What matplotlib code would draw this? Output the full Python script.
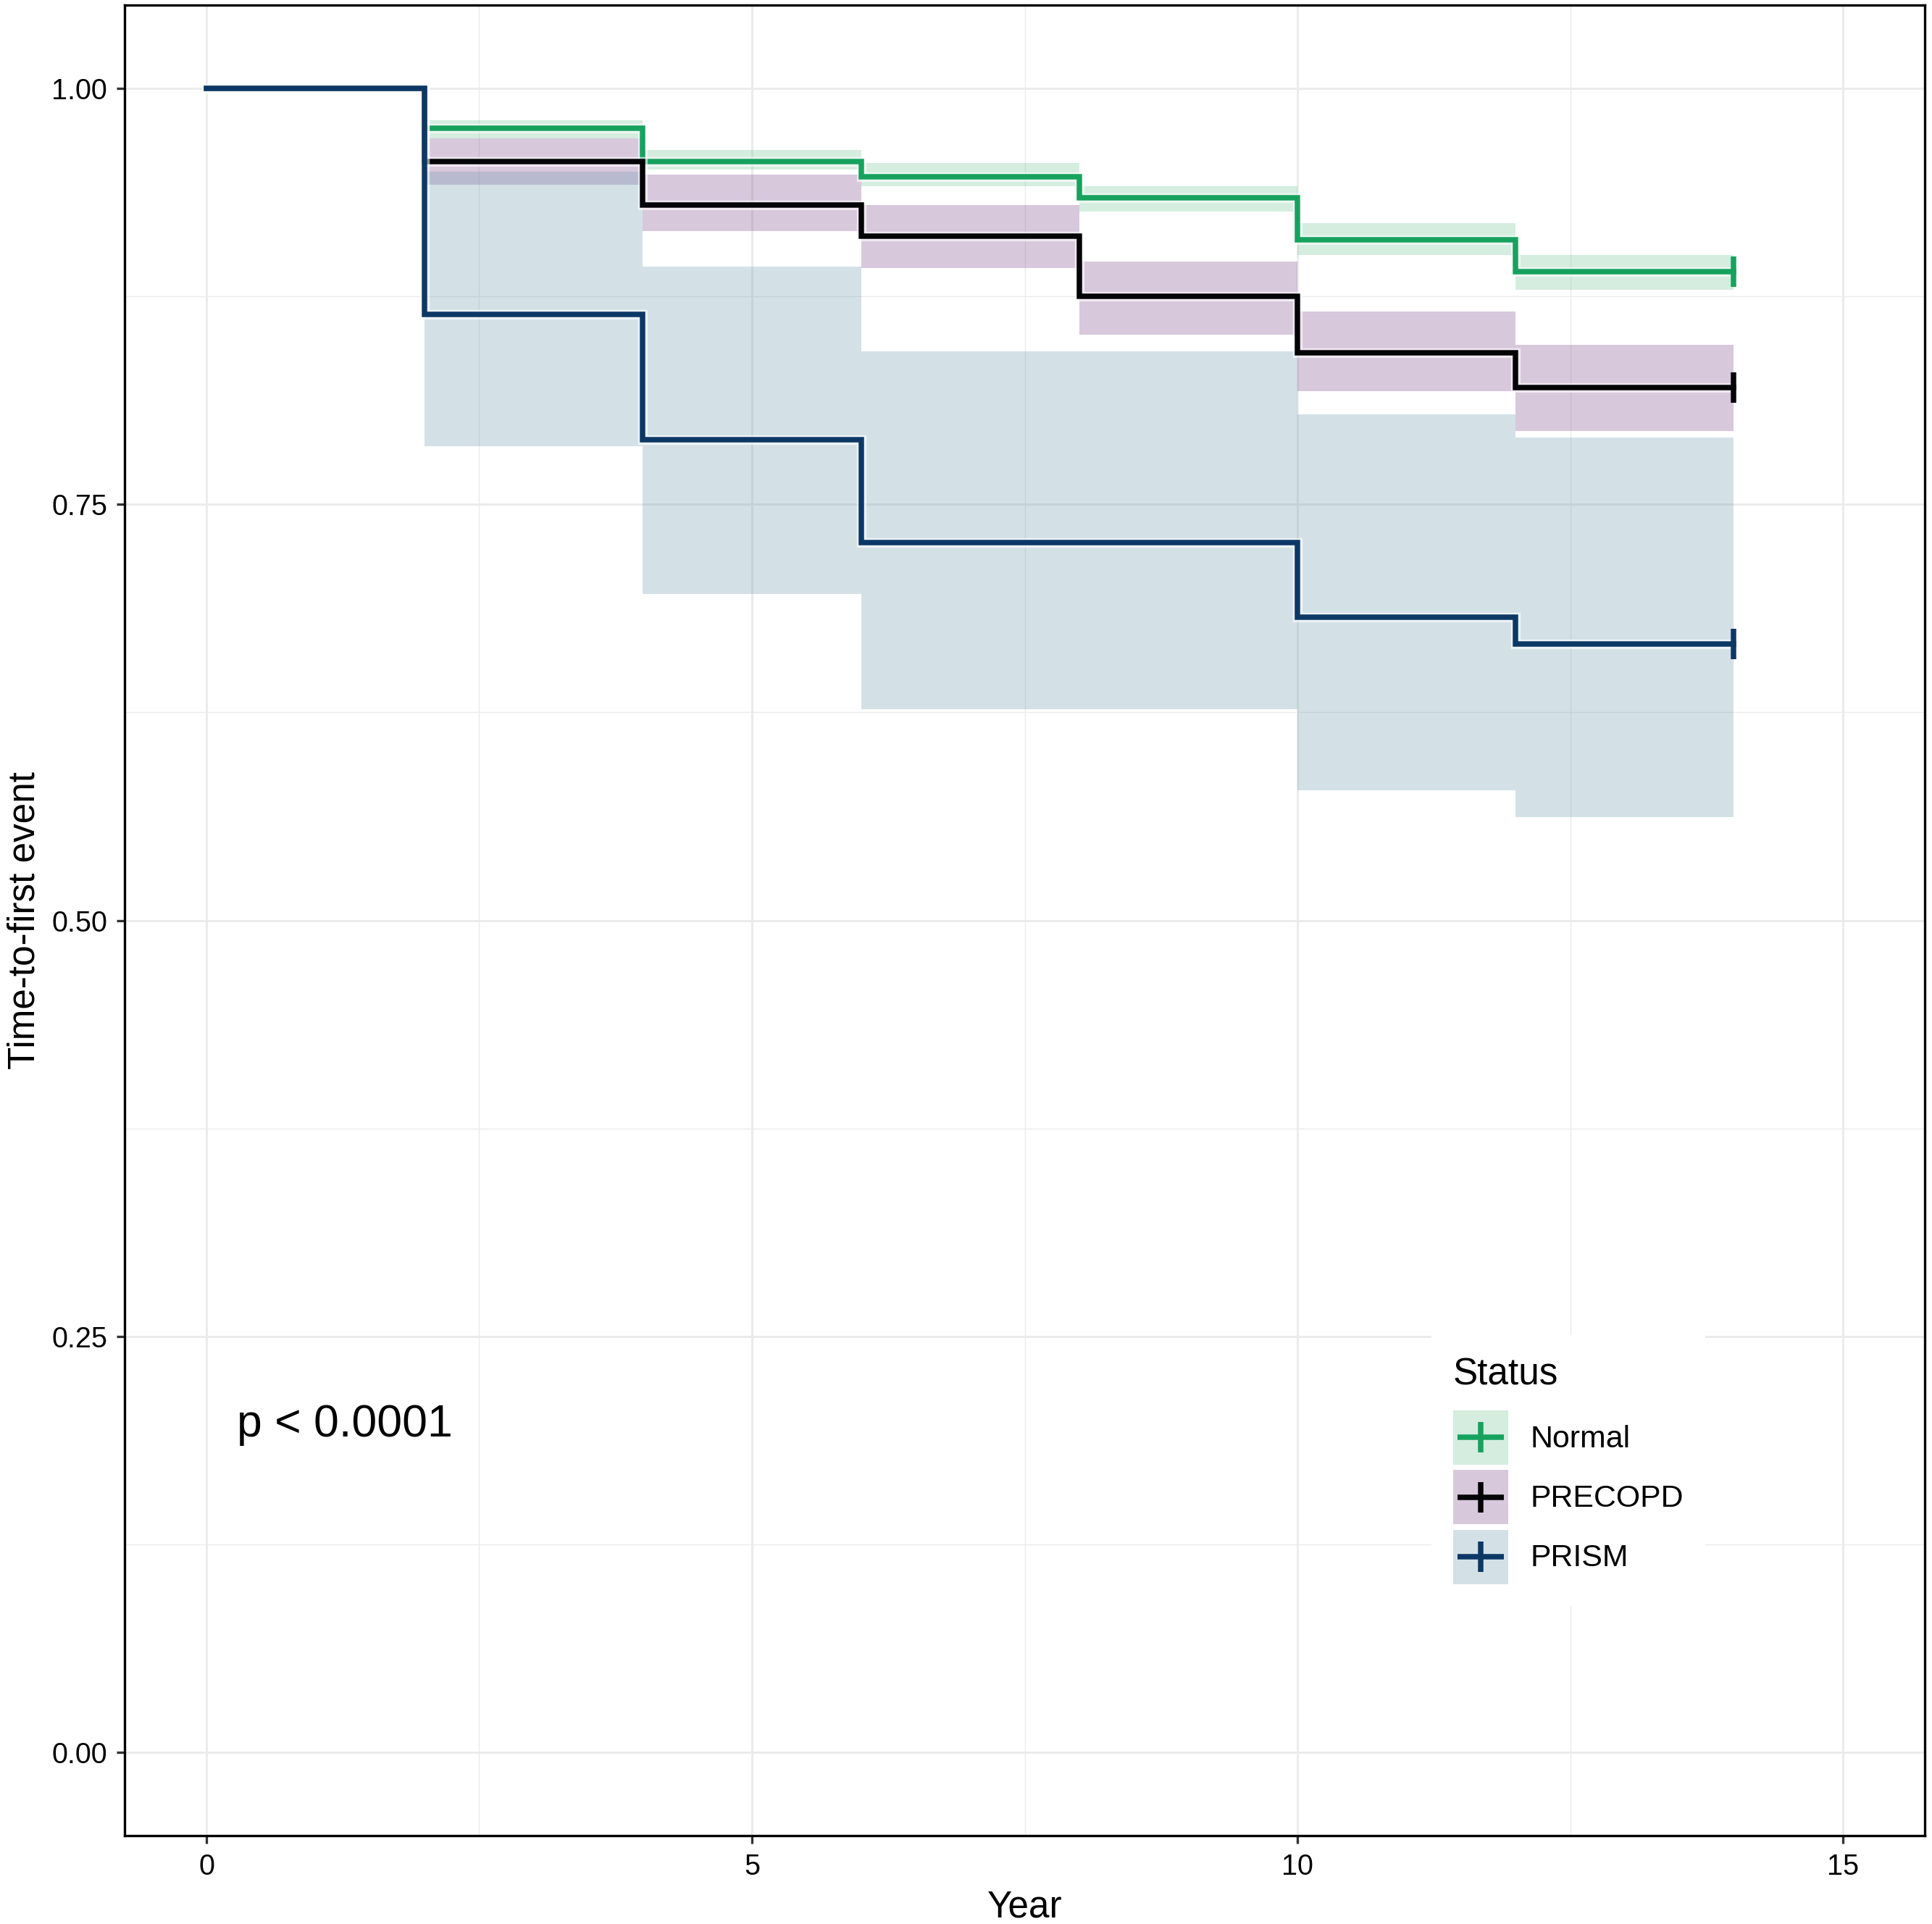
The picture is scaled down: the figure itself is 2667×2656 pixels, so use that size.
import matplotlib
matplotlib.use("Agg")
import matplotlib.pyplot as plt
import matplotlib.patheffects as pe
from matplotlib.patches import Rectangle
from matplotlib.lines import Line2D
from matplotlib.legend_handler import HandlerBase
from matplotlib.ticker import MultipleLocator, FixedLocator

plt.rcParams['font.family'] = ['Liberation Sans', 'DejaVu Sans']

# ---------------- data ----------------
times = [0, 2, 4, 6, 8, 10, 12, 14]
groups = ["Normal", "PRECOPD", "PRISM"]

normal_surv  = [1.0, 0.976, 0.956, 0.947, 0.934, 0.909, 0.890]
normal_upper = [1.0, 0.981, 0.963, 0.955, 0.941, 0.919, 0.900]
normal_lower = [1.0, 0.970, 0.951, 0.941, 0.926, 0.900, 0.879]

precopd_surv  = [1.0, 0.956, 0.930, 0.911, 0.875, 0.841, 0.820]
precopd_upper = [1.0, 0.970, 0.948, 0.930, 0.896, 0.866, 0.846]
precopd_lower = [1.0, 0.942, 0.914, 0.892, 0.852, 0.818, 0.794]

prism_surv  = [1.0, 0.864, 0.789, 0.727, 0.727, 0.682, 0.666]
prism_upper = [1.0, 0.950, 0.893, 0.842, 0.842, 0.804, 0.790]
prism_lower = [1.0, 0.785, 0.696, 0.627, 0.627, 0.578, 0.562]

x_ticks = [0, 5, 10, 15]
y_ticks = [0.00, 0.25, 0.50, 0.75, 1.00]
y_tick_labels = ["0.00", "0.25", "0.50", "0.75", "1.00"]
pval_text = "p < 0.0001"

# ---------------- styles ----------------
line_colors = {"Normal": "#16A25E", "PRECOPD": "#050508", "PRISM": "#0C3866"}
fill_colors = {"Normal": "#73C698", "PRECOPD": "#804B8E", "PRISM": "#709EB2"}
fill_alpha = 0.3
lw = 1.8

series = {
    "Normal": (normal_surv, normal_lower, normal_upper),
    "PRECOPD": (precopd_surv, precopd_lower, precopd_upper),
    "PRISM": (prism_surv, prism_lower, prism_upper),
}

fig = plt.figure(figsize=(2667 / 300, 2656 / 300), dpi=300)
ax = fig.add_axes([172 / 2667, 1 - 2534 / 2656, (2657 - 172) / 2667, (2534 - 7) / 2656])

ext = lambda v: list(v) + [v[-1]]

for g in groups:
    s, lo, hi = series[g]
    ax.fill_between(times, ext(lo), ext(hi), step="post",
                    facecolor=fill_colors[g], alpha=fill_alpha, linewidth=0, zorder=2)

halo = [pe.Stroke(linewidth=3.2, foreground="white", alpha=0.6), pe.Normal()]
for g in groups:
    s, lo, hi = series[g]
    ax.step(times, ext(s), where="post", color=line_colors[g], linewidth=lw,
            zorder=3, path_effects=halo, solid_joinstyle="miter")
    ax.plot([times[-1]], [s[-1]], linestyle="none", marker="|", markersize=10,
            markeredgewidth=lw, color=line_colors[g], zorder=4)

ax.set_xlim(-0.75, 15.75)
ax.set_ylim(-0.05, 1.05)
ax.xaxis.set_major_locator(FixedLocator(x_ticks))
ax.xaxis.set_minor_locator(MultipleLocator(2.5))
ax.yaxis.set_major_locator(FixedLocator(y_ticks))
ax.set_yticklabels(y_tick_labels)
ax.yaxis.set_minor_locator(MultipleLocator(0.125))

ax.grid(which="major", color="#EBEBEB", linewidth=0.7, zorder=0)
ax.grid(which="minor", color="#EBEBEB", linewidth=0.35, zorder=0)
ax.set_axisbelow(True)

for sp in ax.spines.values():
    sp.set_color("black")
    sp.set_linewidth(0.8)

ax.tick_params(which="major", length=2.7, width=0.8, color="#333333",
               labelsize=9.5, labelcolor="black", pad=3)
ax.tick_params(which="minor", length=0)

ax.set_xlabel("Year", fontsize=12.3, labelpad=3)
ax.set_ylabel("Time-to-first event", fontsize=12.3, labelpad=3)

ax.text(0.28, 0.19, pval_text, fontsize=15, ha="left", va="baseline", zorder=5)


class KeyHandler(HandlerBase):
    def create_artists(self, legend, orig_handle, xdescent, ydescent,
                       width, height, fontsize, trans):
        fc, lc = orig_handle
        x0, y0 = -xdescent, -ydescent
        rect = Rectangle((x0, y0), width, height, facecolor=fc, alpha=fill_alpha,
                         edgecolor="none", transform=trans)
        cy = y0 + height / 2
        cx = x0 + width / 2
        hl = Line2D([x0 + 0.08 * width, x0 + 0.92 * width], [cy, cy], color=lc,
                    linewidth=lw, transform=trans, solid_capstyle="butt")
        vl = Line2D([cx, cx], [cy - 0.28 * height, cy + 0.28 * height], color=lc,
                    linewidth=lw, transform=trans, solid_capstyle="butt")
        return [rect, hl, vl]


handles = [(fill_colors[g], line_colors[g]) for g in groups]

leg = fig.legend(handles, groups, handler_map={tuple: KeyHandler()},
                 loc="upper left", bbox_to_anchor=(1976 / 2667, 1 - 1843 / 2656),
                 title="Status", title_fontsize=12.3, fontsize=10.3,
                 frameon=True, facecolor="white", edgecolor="none", framealpha=1,
                 fancybox=False, borderpad=0.7, handlelength=1.78, handleheight=2.3,
                 handletextpad=0.7, labelspacing=0.18, alignment="left",
                 borderaxespad=0)
leg.get_frame().set_linewidth(0)
leg._legend_box.sep = 6.0

fig.savefig("out.png", dpi=300)
